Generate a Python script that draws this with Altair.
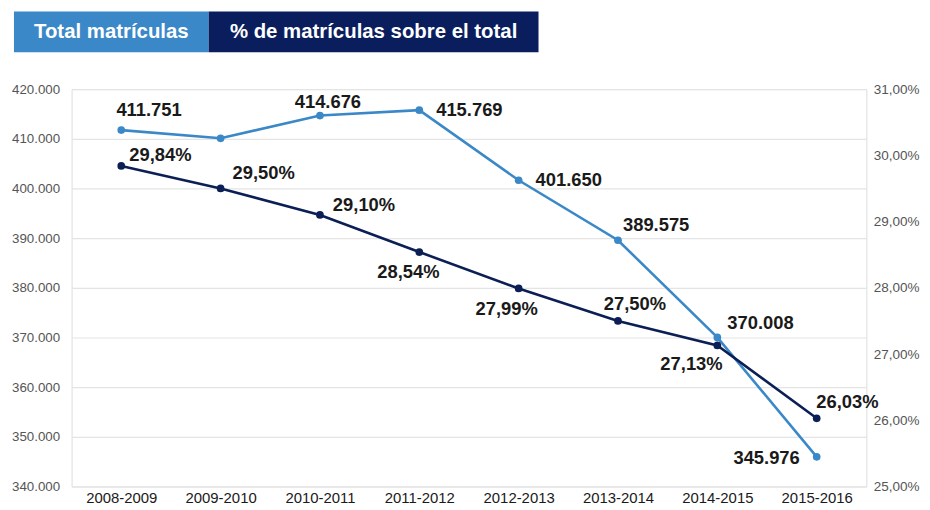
import altair as alt
import pandas as pd

cursos = ["2008-2009", "2009-2010", "2010-2011", "2011-2012",
          "2012-2013", "2013-2014", "2014-2015", "2015-2016"]
total_matriculas = [411751, 410100, 414676, 415769, 401650, 389575, 370008, 345976]
pct_matriculas = [29.84, 29.50, 29.10, 28.54, 27.99, 27.50, 27.13, 26.03]
total_labelled = [True, False, True, True, True, True, True, True]

legend_labels = ["Total matrículas", "% de matrículas sobre el total"]
left_ticks = [340000, 350000, 360000, 370000, 380000, 390000, 400000, 410000, 420000]
right_ticks = [25, 26, 27, 28, 29, 30, 31]

# label offsets (layout only)
total_dx = [28, 0, 8, 17, 17, 5, 10, -17]
total_dy = [-20, 0, -14, 0, 0, -15, -15, 1]
total_align = ["center", "center", "center", "left", "left", "left", "left", "right"]
pct_dx = [8, 12, 13, -11, -12, 17, -26, 31]
pct_dy = [-11, -16, -10, 20, 21, -17, 19, -16]
pct_align = ["left", "left", "left", "center", "center", "center", "center", "center"]

LIGHT = "#3b88c8"
DARK = "#0c1f55"
FONT = "Liberation Sans"
LBL = 18.5

df = pd.DataFrame({
    "curso": cursos,
    "total": total_matriculas,
    "pct": pct_matriculas,
})
df["total_lbl"] = [f"{v:,}".replace(",", ".") if s else "" for v, s in zip(total_matriculas, total_labelled)]
df["pct_lbl"] = [f"{v:.2f}".replace(".", ",") + "%" for v in pct_matriculas]

xenc = alt.X("curso:N", sort=cursos, title=None,
             scale=alt.Scale(type="point", padding=0.5),
             axis=alt.Axis(labelAngle=0, labelFontSize=15, labelColor="#1a1a1a",
                           labelFont=FONT, ticks=False, domain=False, labelPadding=4,
                           grid=False))

yleft = alt.Y("total:Q", title=None,
              scale=alt.Scale(domain=[340000, 420000], nice=False, zero=False),
              axis=alt.Axis(values=left_ticks, orient="left",
                            labelExpr="replace(format(datum.value, ','), ',', '.')",
                            labelFontSize=13.4, labelColor="#555", labelFont=FONT,
                            ticks=False, domain=False, labelPadding=12,
                            grid=True, gridColor="#e4e4e4", gridWidth=1.2))

yright = alt.Y("pct:Q", title=None,
               scale=alt.Scale(domain=[25, 31], nice=False, zero=False),
               axis=alt.Axis(values=right_ticks, orient="right",
                             labelExpr="replace(format(datum.value, '.2f'), '.', ',') + '%'",
                             labelFontSize=13.6, labelColor="#555", labelFont=FONT,
                             ticks=False, domain=False, labelPadding=7, grid=False))

base = alt.Chart(df)

total_line = base.mark_line(color=LIGHT, strokeWidth=2.6).encode(x=xenc, y=yleft)
total_pts = base.mark_circle(color=LIGHT, size=60, opacity=1).encode(x=xenc, y=yleft)
total_text_layers = []
for i in range(len(cursos)):
    if not total_labelled[i]:
        continue
    total_text_layers.append(
        alt.Chart(df.iloc[[i]]).mark_text(
            fontSize=LBL, fontWeight="bold", font=FONT, color="#1a1a1a",
            dx=total_dx[i], dy=total_dy[i], align=total_align[i], baseline="middle"
        ).encode(x=xenc, y=yleft, text="total_lbl:N")
    )
left_layer = alt.layer(total_line, total_pts, *total_text_layers)

pct_line = base.mark_line(color=DARK, strokeWidth=2.6).encode(x=xenc, y=yright)
pct_pts = base.mark_circle(color=DARK, size=60, opacity=1).encode(x=xenc, y=yright)
pct_text_layers = []
for i in range(len(cursos)):
    pct_text_layers.append(
        alt.Chart(df.iloc[[i]]).mark_text(
            fontSize=LBL, fontWeight="bold", font=FONT, color="#1a1a1a",
            dx=pct_dx[i], dy=pct_dy[i], align=pct_align[i], baseline="middle"
        ).encode(x=xenc, y=yright, text="pct_lbl:N")
    )
right_layer = alt.layer(pct_line, pct_pts, *pct_text_layers)

leg_df = pd.DataFrame({"label": legend_labels})
box1 = alt.Chart(leg_df.iloc[[0]]).mark_rect(color=LIGHT).encode(
    x=alt.value(-58), x2=alt.value(138), y=alt.value(-78), y2=alt.value(-37))
box2 = alt.Chart(leg_df.iloc[[1]]).mark_rect(color="#0a1e5e").encode(
    x=alt.value(138), x2=alt.value(470), y=alt.value(-78), y2=alt.value(-37))
txt1 = alt.Chart(leg_df.iloc[[0]]).mark_text(
    color="white", fontSize=20.5, fontWeight="bold", font=FONT, align="center", baseline="middle"
).encode(x=alt.value(40), y=alt.value(-57), text="label:N")
txt2 = alt.Chart(leg_df.iloc[[1]]).mark_text(
    color="white", fontSize=20.5, fontWeight="bold", font=FONT, align="center", baseline="middle"
).encode(x=alt.value(304), y=alt.value(-57), text="label:N")
legend_layer = alt.layer(box1, box2, txt1, txt2)

chart = alt.layer(left_layer, right_layer, legend_layer).resolve_scale(
    y="independent"
).properties(
    width=800, height=400, padding={"left": 3, "top": 2, "right": 2, "bottom": 2}
).configure_view(stroke=None).configure(background="white")

chart.save("out.html", embed_options={"renderer": "svg", "actions": False})
